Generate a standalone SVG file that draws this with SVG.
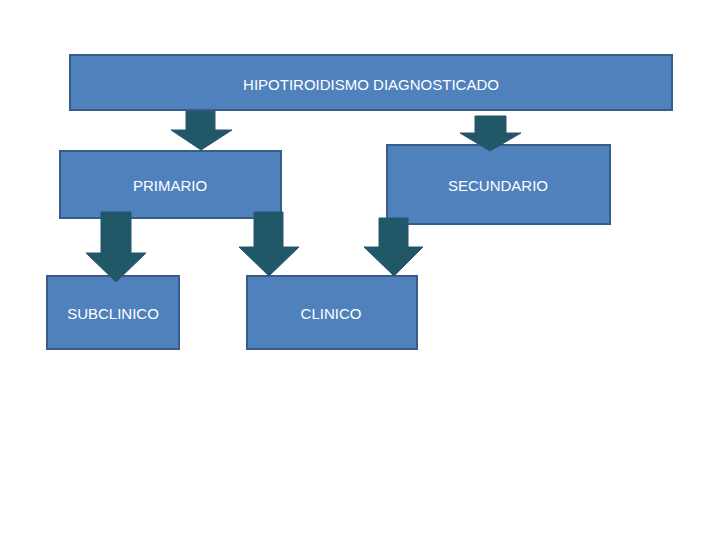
<svg xmlns="http://www.w3.org/2000/svg" width="720" height="540" viewBox="0 0 720 540">
<style>
.box{fill:#4F81BD;stroke:#385D8A;stroke-width:2}
.arr{fill:#215868;stroke:#2B5572;stroke-width:1}
.lbl{fill:#FFFFFF;font-family:"Liberation Sans","Open Sans",Arial,sans-serif;font-size:15px;text-anchor:middle}
</style>
<rect width="720" height="540" fill="#FFFFFF"/>
<g id="n-hipo"><rect class="box" x="70" y="55" width="602" height="55"/><text class="lbl" x="371" y="90">HIPOTIROIDISMO DIAGNOSTICADO</text></g>
<g id="n-primario"><rect class="box" x="60" y="151" width="221" height="67"/><text class="lbl" x="170" y="191">PRIMARIO</text></g>
<g id="n-secundario"><rect class="box" x="387" y="145" width="223" height="79"/><text class="lbl" x="498" y="191">SECUNDARIO</text></g>
<g id="n-subclinico"><rect class="box" x="47" y="276" width="132" height="73"/><text class="lbl" x="113" y="319">SUBCLINICO</text></g>
<g id="n-clinico"><rect class="box" x="247" y="276" width="170" height="73"/><text class="lbl" x="331" y="319">CLINICO</text></g>
<g id="connectors">
<polygon class="arr" points="186,111 215,111 215,130 232,130 201,150 171,130 186,130"/>
<polygon class="arr" points="475,116 506,116 506,133 521,133 490,151 460,133 475,133"/>
<polygon class="arr" points="101,212 131,212 131,253 146,253 116,282 86,253 101,253"/>
<polygon class="arr" points="254,212 283,212 283,247 299,247 269,276 239,247 254,247"/>
<polygon class="arr" points="379,218 408,218 408,247 423,247 394,276 364,247 379,247"/>
</g>
</svg>
